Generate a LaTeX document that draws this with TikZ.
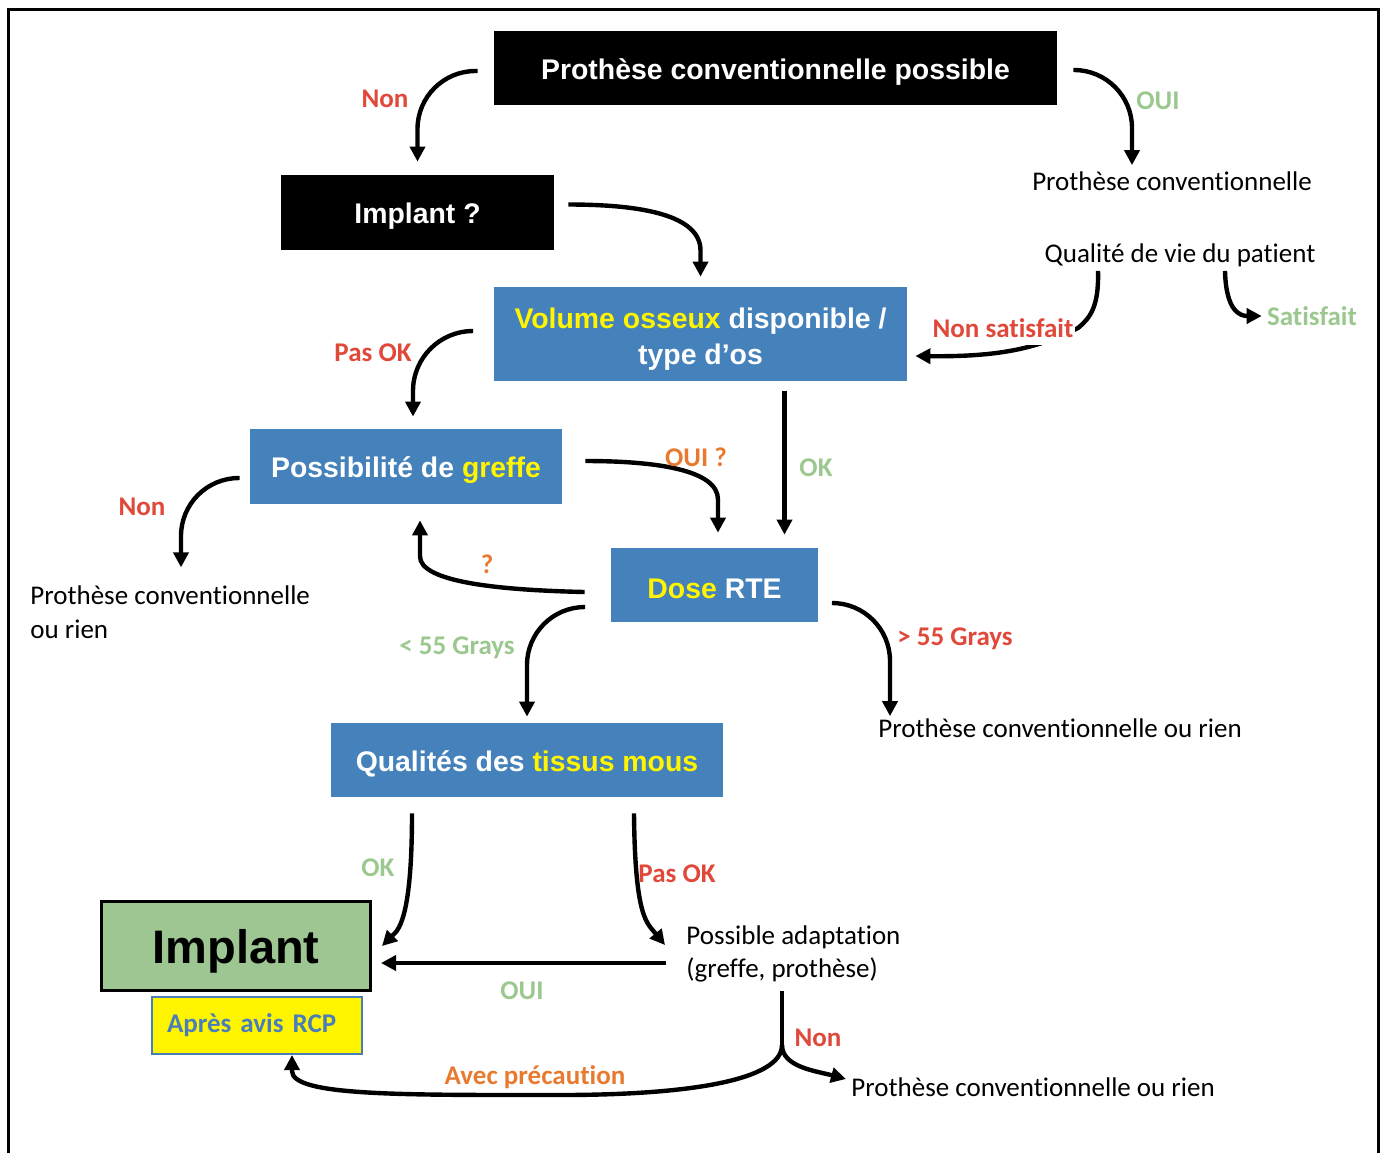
\documentclass[tikz,border=0pt]{standalone}
\usepackage{fontspec}
\setmainfont{Carlito}[Ligatures=NoCommon]
\newfontfamily\arial{Liberation Sans}
\usepackage{tikz}
\usetikzlibrary{arrows.meta, positioning}
\definecolor{bleu}{RGB}{69,129,186}
\definecolor{jaune}{RGB}{255,245,0}
\definecolor{vertlab}{RGB}{155,200,142}
\definecolor{rouge}{RGB}{224,72,58}
\definecolor{orangelab}{RGB}{232,122,48}
\definecolor{vertimplant}{RGB}{157,198,147}
\definecolor{bleurcp}{RGB}{74,126,187}
\tikzstyle{noire} = [fill=black, text=white, font=\arial\bfseries\fontsize{14.2}{17}\selectfont, inner sep=0pt, text height=14pt]
\tikzstyle{bleue} = [fill=bleu, text=white, font=\arial\bfseries\fontsize{14.2}{18}\selectfont, align=center, inner sep=0pt, text height=14pt]
\tikzstyle{texte} = [font=\fontsize{13.5}{16.75}\selectfont, align=left, inner sep=1pt]
\tikzstyle{etiq} = [font=\bfseries\fontsize{13.5}{16}\selectfont, inner sep=1pt]
\tikzstyle{fleche} = [line width=2.2pt, -{Triangle[length=7.5pt,width=7.5pt]}]

\begin{document}
\begin{tikzpicture}[x=0.5pt, y=-0.5pt]
	\useasboundingbox (0,0) rectangle (1386,1153);
	\draw[line width=1.5pt] (8,1153) -- (8,9) -- (1378,9) -- (1378,1153);

	\node[noire, minimum width=281.5pt, minimum height=37pt] (pcp) at (775.5,68) {Prothèse conventionnelle possible};
	\node[noire, minimum width=136.5pt, minimum height=37.5pt] (implantq) at (417.5,212.5) {Implant ?};
	\node[bleue, minimum width=206.5pt, minimum height=47pt, text height=33pt] (volume) at (700.5,334) {\textcolor{jaune}{Volume osseux} disponible /\\type d’os};
	\node[bleue, minimum width=156pt, minimum height=37.5pt] (greffe) at (406,466.5) {Possibilité de \textcolor{jaune}{greffe}};
	\node[bleue, minimum width=103.5pt, minimum height=37pt] (dose) at (714.5,585) {\textcolor{jaune}{Dose} RTE};
	\node[bleue, minimum width=196pt, minimum height=37pt] (tissus) at (527,760) {Qualités des \textcolor{jaune}{tissus mous}};
	\node[draw=black, line width=1.5pt, fill=vertimplant, minimum width=134.5pt, minimum height=44.5pt, inner sep=0pt, text height=22pt, font=\arial\bfseries\fontsize{23.5}{28}\selectfont] (implant) at (236,946) {Implant};
	\node[draw=bleurcp, line width=1pt, fill=jaune, text=bleurcp, minimum width=105pt, minimum height=28.5pt, inner sep=0pt, text width=90pt, align=left, font=\bfseries\fontsize{13.5}{16}\selectfont, below=2pt of implant, xshift=10.5pt] (apres) {Après avis RCP};

	\node[texte] (pc) at (1172,181) {Prothèse conventionnelle};
	\node[texte] (qv) at (1180,255) {Qualité de vie du patient};
	\node[texte, anchor=west] (pcr1) at (28,612) {Prothèse conventionnelle\\ou rien};
	\node[texte, anchor=west] (pcr2) at (876,728) {Prothèse conventionnelle ou rien};
	\node[texte, anchor=west] (ad) at (684,954) {Possible adaptation\\(greffe, prothèse)};
	\node[texte, anchor=west] (pcr3) at (849,1087) {Prothèse conventionnelle ou rien};
	\node[etiq, text=vertlab] (sat) at (1312,316) {Satisfait};
	\coordinate (ns) at (1078,328);
	\coordinate (fourche) at (782,1045);

	\draw[fleche, rounded corners=29pt] ([xshift=-8pt,yshift=-1.5pt]pcp.west) -| ([yshift=6.5pt]implantq.north);
	\draw[fleche, rounded corners=29pt] ([xshift=8pt,yshift=-1pt]pcp.east) -| ([xshift=-20pt,yshift=2pt]pc.north);
	\draw[fleche] ([xshift=7pt,yshift=4pt]implantq.east) .. controls +(75,0) and +(0,-35) .. ([yshift=18pt]volume.north) -- ([yshift=5pt]volume.north);
	\draw[fleche] ([xshift=-41pt,yshift=-1pt]qv.south) .. controls +(1,36) and +(12,-10) .. (ns) .. controls +(-40,20) and +(85,1) .. ([xshift=4pt,yshift=-11pt]volume.east);
	\draw[fleche] ([xshift=22.5pt,yshift=-1pt]qv.south) .. controls +(1,40) and +(-22,0) .. ([xshift=-1.5pt]sat.west);
	\draw[fleche, rounded corners=30pt] ([xshift=-10.5pt,yshift=1.5pt]volume.west) -| ([xshift=3.5pt,yshift=6pt]greffe.north);
	\draw[fleche] ([xshift=42pt,yshift=-5pt]volume.south) -- ([xshift=35pt,yshift=6.5pt]dose.north);
	\draw[fleche] ([xshift=11.5pt,yshift=2.75pt]greffe.east) .. controls +(70,0) and +(0,-30) .. ([xshift=1.75pt,yshift=24pt]dose.north) -- ([xshift=1.75pt,yshift=7.5pt]dose.north);
	\draw[fleche, rounded corners=29pt] ([xshift=-5pt,yshift=-5.75pt]greffe.west) -| ([xshift=76.5pt,yshift=8pt]pcr1.north west);
	\draw[fleche] ([xshift=-13pt,yshift=-3.5pt]dose.west) .. controls +(-90,-2) and +(0,25) .. ([xshift=7pt,yshift=-26pt]greffe.south) -- ([xshift=7pt,yshift=-8pt]greffe.south);
	\draw[fleche, rounded corners=29pt] ([xshift=-13pt,yshift=-11pt]dose.west) -| ([yshift=3pt]tissus.north);
	\draw[fleche, rounded corners=29pt] ([xshift=7pt,yshift=-9pt]dose.east) -| ([xshift=7pt]pcr2.north west);
	\draw[fleche] ([xshift=-57.5pt,yshift=-8pt]tissus.south) .. controls +(0,110) and +(15,-15) .. ([xshift=5pt]implant.east);
	\draw[fleche] ([xshift=53.5pt,yshift=-8pt]tissus.south) .. controls +(1,105) and +(-18,-22) .. ([xshift=-9.5pt,yshift=4.5pt]ad.west);
	\draw[fleche] ([xshift=-9pt,yshift=-4.5pt]ad.west) -- ([xshift=4.5pt,yshift=-8.5pt]implant.east);
	\draw[line width=2.2pt] ([yshift=-3pt]fourche |- ad.south) -- (fourche);
	\draw[fleche] (fourche) .. controls +(0,35) and +(130,0) .. ++(-222,50) .. controls +(-160,0) and +(0,25) .. ([xshift=17.5pt,yshift=-8pt]apres.south) -- ([xshift=17.5pt]apres.south);
	\draw[fleche] (fourche) .. controls +(0,22) and +(-30,-8) .. ([xshift=-1.5pt,yshift=4pt]pcr3.west);

	\node[etiq, text=rouge] (non1) at (385,99) {Non};
	\node[etiq, text=vertlab] (oui1) at (1158,101) {OUI};
	\node[etiq, text=rouge, fill=white, inner ysep=3.5pt] (nsat) at (1003,328) {Non satisfait};
	\node[etiq, text=rouge] (pasok1) at (373,353) {Pas OK};
	\node[etiq, text=orangelab] (ouiq) at (696,457) {OUI ?};
	\node[etiq, text=vertlab] (ok1) at (816,468) {OK};
	\node[etiq, text=rouge] (non2) at (142,507) {Non};
	\node[etiq, text=orangelab] (quest) at (487,564) {?};
	\node[etiq, text=vertlab] (moins) at (457,648) {< 55 Grays};
	\node[etiq, text=rouge] (plus) at (955,639) {> 55 Grays};
	\node[etiq, text=vertlab] (ok2) at (378,868) {OK};
	\node[etiq, text=rouge] (pasok2) at (677,874) {Pas OK};
	\node[etiq, text=vertlab] (oui2) at (522,991) {OUI};
	\node[etiq, text=rouge] (non3) at (818,1038) {Non};
	\node[etiq, text=orangelab] (prec) at (535,1077) {Avec précaution};
\end{tikzpicture}
\end{document}
